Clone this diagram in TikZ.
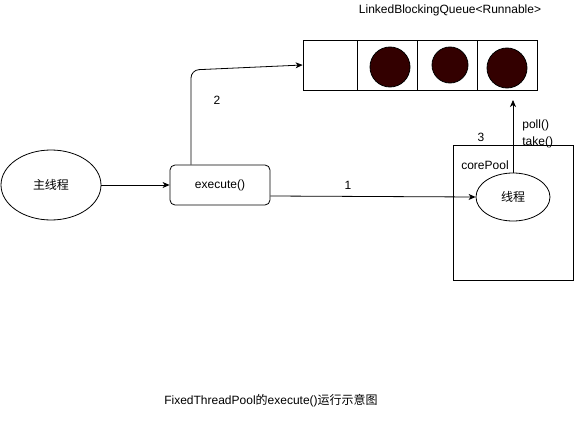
\documentclass[tikz,border=0pt]{standalone}
\usepackage{fontspec}
\setmainfont{Liberation Sans}
\newfontfamily\cjk{Noto Sans CJK SC}
\usetikzlibrary{shapes.geometric,arrows.meta}
\definecolor{ballred}{HTML}{330000}
\begin{document}
\begin{tikzpicture}[x=1pt,y=-1pt, line width=0.8pt, >={Stealth[length=7pt,width=6pt,inset=2pt]},
 font=\fontsize{12}{14}\selectfont,
 cell/.style={draw, minimum height=50pt, inner sep=0pt},
 ball/.style={circle, draw, fill=ballred, inner sep=0pt},
 oval/.style={ellipse, draw, inner sep=0pt}]
 \useasboundingbox (0,0) rectangle (574,431);
 % threads
 \node[oval, minimum width=100pt, minimum height=70pt] (main) at (51,185) {\cjk 主线程};
 \node[draw, rounded corners=5pt, minimum width=100pt, minimum height=40pt] (ex) at (220,185) {execute()};
 \node[draw, minimum width=120pt, minimum height=135pt] (pool) at (513,212.5) {};
 \node (cp) at (485,165) {corePool};
 \node[oval, minimum width=74pt, minimum height=48pt] (th) at (513,197) {\cjk 线程};
 % queue
 \node at (450,10) {LinkedBlockingQueue<Runnable>};
 \node[cell, minimum width=54pt] (q0) at (330,65) {};
 \foreach \i/\x in {1/387,2/447,3/507}
 \node[cell, minimum width=60pt] (q\i) at (\x,65) {};
 \foreach \i/\x/\y/\d in {1/390/67/40,2/450/65/36,3/507/68/40}
 \node[ball, minimum size=\d pt] (b\i) at (\x,\y) {};
 % arrows
 \draw[->] (main) -- (ex);
 \draw[->] ([yshift=-11pt]ex.east) -- (th.west);
 \coordinate (c2) at (191,70);
 \draw[->, rounded corners=8pt] (c2 |- ex.north) -- (c2) -- (q0.west);
 \coordinate (c3) at (513,100);
 \draw[->] (th.north) -- (c3);
 \node at (348,185) {1};
 \node at (217,100) {2};
 \node at (481,137) {3};
 \node[anchor=west, inner sep=0pt] at (522,125) {poll()};
 \node[anchor=west, inner sep=0pt] at (522,142) {take()};
 \node at (271,401) {FixedThreadPool{\cjk 的}execute(){\cjk 运行示意图}};
\end{tikzpicture}
\end{document}
